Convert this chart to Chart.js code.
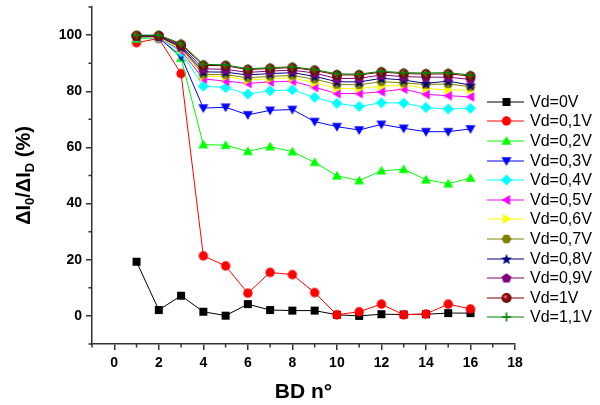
<!DOCTYPE html>
<html>
<head>
<meta charset="utf-8">
<script src="https://cdn.jsdelivr.net/npm/chart.js@4.4.1/dist/chart.umd.min.js"></script>
<style>
  html, body { margin: 0; padding: 0; background: #fff; }
  #wrap { width: 600px; height: 405px; }
</style>
</head>
<body>
<div id="wrap"><canvas id="chart" width="600" height="405"></canvas></div>
<script>
// BD number on the x axis
const bdNumbers = [1, 2, 3, 4, 5, 6, 7, 8, 9, 10, 11, 12, 13, 14, 15, 16];

// ΔI0/ΔID (%) per drain voltage
const vd0V  = [19.3, 2.1, 7.2, 1.5, 0.1, 4.2, 2.1, 1.9, 1.9, 0.4, 0.0, 0.6, 0.5, 0.6, 1.0, 1.0];
const vd01V = [97.3, 98.8, 86.3, 21.4, 17.8, 8.1, 15.5, 14.7, 8.3, 0.4, 1.5, 4.2, 0.4, 0.7, 4.2, 2.5];
const vd02V = [98.6, 99.2, 91.8, 61.0, 60.8, 58.6, 60.3, 58.5, 54.7, 49.9, 48.2, 51.7, 52.2, 48.5, 47.1, 49.1];
const vd03V = [99.2, 99.0, 92.5, 74.0, 74.3, 71.6, 73.2, 73.5, 69.2, 67.4, 66.2, 68.2, 66.8, 65.6, 65.6, 66.6];
const vd04V = [99.3, 99.1, 94.0, 81.8, 81.3, 79.0, 80.2, 80.5, 77.8, 75.7, 74.6, 75.9, 75.8, 74.2, 73.7, 73.9];
const vd05V = [99.6, 99.3, 94.5, 84.4, 83.6, 82.8, 83.3, 83.6, 81.4, 79.2, 79.2, 79.8, 80.8, 78.9, 78.4, 78.0];
const vd06V = [99.4, 99.2, 95.0, 85.4, 85.2, 84.0, 84.5, 84.8, 83.0, 81.0, 81.0, 81.8, 82.3, 81.0, 80.5, 80.4];
const vd07V = [99.5, 99.4, 95.5, 86.0, 85.9, 84.8, 85.3, 85.6, 84.3, 82.4, 82.3, 83.4, 83.0, 82.4, 82.6, 81.6];
const vd08V = [99.6, 99.5, 95.8, 86.9, 86.8, 85.8, 86.3, 86.6, 85.3, 83.4, 83.3, 84.6, 84.0, 82.8, 83.6, 82.2];
const vd09V = [99.7, 99.6, 96.2, 88.0, 87.8, 86.7, 87.2, 87.5, 86.5, 84.5, 84.6, 85.8, 85.2, 85.0, 85.0, 84.2];
const vd1V  = [99.8, 99.8, 96.6, 89.2, 89.1, 87.7, 88.1, 88.4, 87.4, 85.8, 85.8, 86.8, 86.3, 86.1, 86.2, 85.4];
const vd11V = [100.0, 100.0, 97.0, 89.6, 89.4, 88.0, 88.4, 88.7, 87.7, 86.2, 86.1, 87.1, 86.6, 86.5, 86.6, 85.8];

const seriesValues = [vd0V, vd01V, vd02V, vd03V, vd04V, vd05V, vd06V, vd07V, vd08V, vd09V, vd1V, vd11V];
const seriesLabels = ["Vd=0V", "Vd=0,1V", "Vd=0,2V", "Vd=0,3V", "Vd=0,4V", "Vd=0,5V",
                      "Vd=0,6V", "Vd=0,7V", "Vd=0,8V", "Vd=0,9V", "Vd=1V", "Vd=1,1V"];
const seriesColors = ["#000000", "#ff0000", "#00ff00", "#0000ff", "#00ffff", "#ff00ff",
                      "#ffff00", "#808000", "#000080", "#800080", "#800000", "#008000"];
const seriesShapes = ["square", "circle", "triUp", "triDown", "diamond", "triLeft",
                      "triRight", "hexagon", "star", "pentagon", "ball", "plus"];

const FONT = "'Liberation Sans', Arial, sans-serif";

function polygon(g, cx, cy, r, n, start) {
  for (let i = 0; i < n; i++) {
    const a = start + i * 2 * Math.PI / n;
    const px = cx + r * Math.cos(a), py = cy + r * Math.sin(a);
    if (i === 0) g.moveTo(px, py); else g.lineTo(px, py);
  }
  g.closePath();
}

// small offscreen canvases used as point styles (and in the legend)
function makeMarker(shape, color) {
  const c = document.createElement("canvas");
  c.width = 14; c.height = 14;
  const g = c.getContext("2d");
  const cx = 7, cy = 7;
  g.fillStyle = color;
  g.strokeStyle = color;
  g.beginPath();
  switch (shape) {
    case "square": g.rect(cx - 4, cy - 4, 8, 8); break;
    case "circle": g.arc(cx, cy, 4.7, 0, Math.PI * 2); break;
    case "triUp": polygon(g, cx, cy + 0.8, 5.8, 3, -Math.PI / 2); break;
    case "triDown": polygon(g, cx, cy - 0.8, 5.8, 3, Math.PI / 2); break;
    case "triLeft": polygon(g, cx + 0.8, cy, 5.8, 3, Math.PI); break;
    case "triRight": polygon(g, cx - 0.8, cy, 5.8, 3, 0); break;
    case "diamond": polygon(g, cx, cy, 5.6, 4, 0); break;
    case "hexagon": polygon(g, cx, cy, 5.0, 6, 0); break;
    case "pentagon": polygon(g, cx, cy + 0.4, 5.2, 5, -Math.PI / 2); break;
    case "star":
      for (let i = 0; i < 10; i++) {
        const r = i % 2 ? 2.4 : 5.8;
        const a = -Math.PI / 2 + i * Math.PI / 5;
        const px = cx + r * Math.cos(a), py = cy + 0.5 + r * Math.sin(a);
        if (i === 0) g.moveTo(px, py); else g.lineTo(px, py);
      }
      g.closePath();
      break;
    case "ball": {
      const grad = g.createRadialGradient(cx - 1.5, cy - 1.5, 0.5, cx, cy, 5);
      grad.addColorStop(0, "#e08080");
      grad.addColorStop(0.35, "#a01010");
      grad.addColorStop(1, "#600000");
      g.fillStyle = grad;
      g.arc(cx, cy, 5, 0, Math.PI * 2);
      break;
    }
    case "plus":
      g.lineWidth = 1.6;
      g.moveTo(cx - 4.5, cy); g.lineTo(cx + 4.5, cy);
      g.moveTo(cx, cy - 4.5); g.lineTo(cx, cy + 4.5);
      g.stroke();
      return c;
  }
  g.fill();
  return c;
}

const markers = seriesShapes.map((s, i) => makeMarker(s, seriesColors[i]));

const datasets = seriesValues.map((vals, i) => ({
  label: seriesLabels[i],
  data: bdNumbers.map((x, j) => ({ x: x, y: vals[j] })),
  showLine: true,
  borderColor: seriesColors[i],
  backgroundColor: seriesColors[i],
  borderWidth: 1,
  pointStyle: markers[i],
  pointRadius: 5,
  order: seriesValues.length - i, // later series drawn on top
}));

// minor ticks, y title with subscripts, and the line+marker legend
const extrasPlugin = {
  id: "extras",
  afterDraw(chart) {
    const ctx = chart.ctx;
    const xs = chart.scales.x, ys = chart.scales.y;
    const area = chart.chartArea;

    ctx.save();
    ctx.strokeStyle = "#333";
    ctx.lineWidth = 1.5;
    ctx.beginPath();
    for (let v = -1; v <= 18; v += 2) {
      const px = xs.getPixelForValue(v);
      ctx.moveTo(px, area.bottom);
      ctx.lineTo(px, area.bottom + 3.5);
    }
    for (let v = -10; v <= 110; v += 20) {
      const py = ys.getPixelForValue(v);
      ctx.moveTo(area.left - 3.5, py);
      ctx.lineTo(area.left, py);
    }
    ctx.stroke();
    ctx.restore();

    // y axis title: ΔI0/ΔID (%)
    const parts = [["Δ", 0], ["I", 0], ["0", 1], ["/", 0], ["Δ", 0], ["I", 0], ["D", 1], [" (%)", 0]];
    const mainFont = "bold 20px " + FONT, subFont = "bold 13px " + FONT;
    ctx.save();
    let total = 0;
    parts.forEach(p => { ctx.font = p[1] ? subFont : mainFont; total += ctx.measureText(p[0]).width; });
    ctx.translate(22.5, (area.top + area.bottom) / 2);
    ctx.rotate(-Math.PI / 2);
    ctx.fillStyle = "#000";
    ctx.textBaseline = "alphabetic";
    let cx = -total / 2;
    parts.forEach(p => {
      ctx.font = p[1] ? subFont : mainFont;
      ctx.fillText(p[0], cx, p[1] ? 11 : 7);
      cx += ctx.measureText(p[0]).width;
    });
    ctx.restore();

    // legend
    ctx.save();
    ctx.font = "16px " + FONT;
    ctx.textBaseline = "middle";
    ctx.fillStyle = "#000";
    seriesLabels.forEach((lab, i) => {
      const y = Math.round(101.7 + i * 19.6);
      ctx.strokeStyle = seriesColors[i];
      ctx.lineWidth = 1;
      ctx.beginPath();
      ctx.moveTo(487, y);
      ctx.lineTo(524, y);
      ctx.stroke();
      ctx.drawImage(markers[i], 506.5 - 7, y - 7);
      ctx.fillText(lab, 530, y + 0.5);
    });
    ctx.restore();
  }
};

const tickFont = { family: FONT, size: 14, weight: "bold" };

new Chart(document.getElementById("chart").getContext("2d"), {
  type: "scatter",
  data: { datasets: datasets },
  options: {
    responsive: false,
    animation: false,
    events: [],
    layout: { padding: { left: 0, right: 85, top: 7, bottom: 0 } },
    plugins: { legend: { display: false }, tooltip: { enabled: false } },
    scales: {
      x: {
        type: "linear",
        min: -1,
        max: 18,
        afterFit: (s) => { s.height = 61; s.paddingLeft = 0; s.paddingRight = 0; },
        ticks: {
          stepSize: 1,
          autoSkip: false,
          maxRotation: 0,
          padding: 5,
          color: "#000",
          font: tickFont,
          callback: (v) => (v % 2 === 0 ? v : ""),
        },
        grid: {
          drawOnChartArea: false,
          tickLength: 6,
          lineWidth: 1.5,
          tickColor: (c) => (c.tick && c.tick.value % 2 === 0 ? "#333" : "rgba(0,0,0,0)"),
        },
        border: { color: "#333", width: 1.5 },
        title: {
          display: true,
          text: "BD n°",
          color: "#000",
          font: { family: FONT, size: 21, weight: "bold" },
          padding: { top: 0, bottom: 0 },
        },
      },
      y: {
        min: -10,
        max: 110,
        afterFit: (s) => { s.width = 92; s.paddingTop = 0; s.paddingBottom = 0; },
        ticks: {
          stepSize: 10,
          autoSkip: false,
          padding: 4,
          color: "#000",
          font: tickFont,
          callback: (v) => (v % 20 === 0 && v >= 0 && v <= 100 ? v : ""),
        },
        grid: {
          drawOnChartArea: false,
          tickLength: 6,
          lineWidth: 1.5,
          tickColor: (c) => (c.tick && c.tick.value % 20 === 0 ? "#333" : "rgba(0,0,0,0)"),
        },
        border: { color: "#333", width: 1.5 },
      },
    },
  },
  plugins: [extrasPlugin],
});
</script>
</body>
</html>
